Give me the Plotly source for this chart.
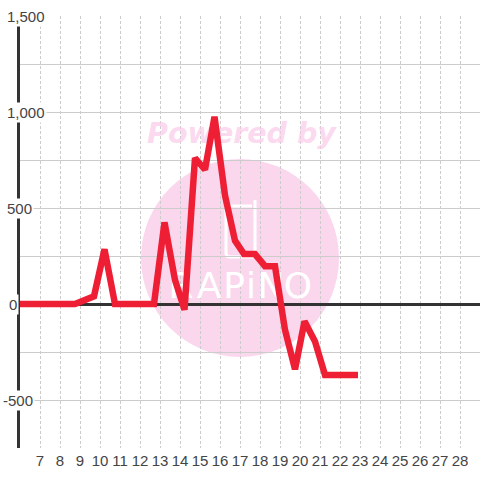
import plotly.graph_objects as go

hours = [5.85, 8.75, 9.7, 10.225, 10.75, 12.7, 13.225, 13.75, 14.225, 14.75, 15.25, 15.725,
         16.25, 16.75, 17.2, 17.75, 18.25, 18.75, 19.25, 19.75, 20.225, 20.75, 21.25, 22.9]
values = [0, 0, 40, 285, 0, 0, 425, 125, -30, 760, 700, 975,
          565, 330, 260, 260, 197, 197, -135, -340, -90, -195, -370, -370]
x_ticks = list(range(7, 29))
y_ticks = [1500, 1000, 500, 0, -500]
y_tick_text = ["1,500", "1,000", "500", "0", "-500"]
y_label_left = [6, 6, 6, 8, 2]
logo_letters = ["R", "A", "P", "i", "N", "O"]
logo_px = [181, 209, 234, 251, 271, 298]

W, H = 480, 480
L, R, T, B = 20, 0, 16, 32
PW, PH = W - L - R, H - T - B


def px(v):
    return (v - L) / PW


def py(v):
    return 1 - (v - T) / PH


def dx(v):
    return 6 + (v - L) / 20


def dy(v):
    return (304 - v) * 500 / 96


circle = dict(type="circle", xref="paper", yref="paper", layer="below",
              x0=px(141), x1=px(339), y0=py(357), y1=py(159),
              fillcolor="#fbd7ee", line=dict(width=0))
phone = dict(type="path", xref="paper", yref="paper", layer="below",
             path=(f"M {px(252)} {py(206)} L {px(226)} {py(206)} L {px(226)} {py(253)} "
                   f"Q {px(226)} {py(257)} {px(230)} {py(257)} L {px(251)} {py(257)} "
                   f"Q {px(255)} {py(257)} {px(255)} {py(253)} L {px(255)} {py(200)}"),
             line=dict(color="#ffffff", width=3))

fig = go.Figure()
fig.add_trace(go.Scatter(x=[dx(241.5)], y=[dy(136)], mode="text", text=["<b><i>Powered by</i></b>"],
                         textfont=dict(family="DejaVu Sans", size=28.5, color="rgba(250,200,232,0.7)"),
                         hoverinfo="skip", showlegend=False))
fig.add_trace(go.Scatter(x=[dx(v) for v in logo_px], y=[dy(289)] * len(logo_px), mode="text", text=logo_letters,
                         textfont=dict(family="DejaVu Sans ExtraLight, DejaVu Sans", size=36, color="#ffffff"),
                         hoverinfo="skip", showlegend=False))
fig.add_trace(go.Scatter(x=hours, y=values, mode="lines", cliponaxis=False,
                         line=dict(color="#ee1f35", width=6.5), hoverinfo="skip", showlegend=False))

for v, t, left in zip(y_ticks, y_tick_text, y_label_left):
    fig.add_annotation(x=6, y=v, xref="x", yref="y", text=t, showarrow=False, xanchor="left",
                       xshift=left - L - 1, yshift=0, bgcolor="#ffffff", borderpad=1,
                       font=dict(family="Liberation Sans", size=15, color="#444444"))

fig.update_layout(
    width=W, height=H, margin=dict(l=L, r=R, t=T, b=B, pad=0),
    paper_bgcolor="#ffffff", plot_bgcolor="rgba(0,0,0,0)", shapes=[circle, phone],
    font=dict(family="Liberation Sans", size=15, color="#444444"), showlegend=False,
)
fig.update_xaxes(range=[6, 29], tickmode="array", tickvals=x_ticks, ticktext=[str(v) for v in x_ticks],
                 showgrid=True, gridcolor="#cccccc", griddash="3px,2px", gridwidth=1, ticks="", zeroline=False,
                 showline=False, tickangle=0, ticklabelstandoff=2,
                 tickfont=dict(family="Liberation Sans", size=15, color="#444444"))
fig.update_yaxes(range=[-750, 1500], tickmode="linear", tick0=0, dtick=250, showticklabels=False,
                 showgrid=True, gridcolor="#cccccc", gridwidth=1, ticks="",
                 zeroline=True, zerolinecolor="#333333", zerolinewidth=3,
                 showline=True, linecolor="#333333", linewidth=3)
fig.write_html("out.html", config=dict(displayModeBar=False),
               post_script="document.body.style.margin='0';document.documentElement.style.overflow='hidden';")
